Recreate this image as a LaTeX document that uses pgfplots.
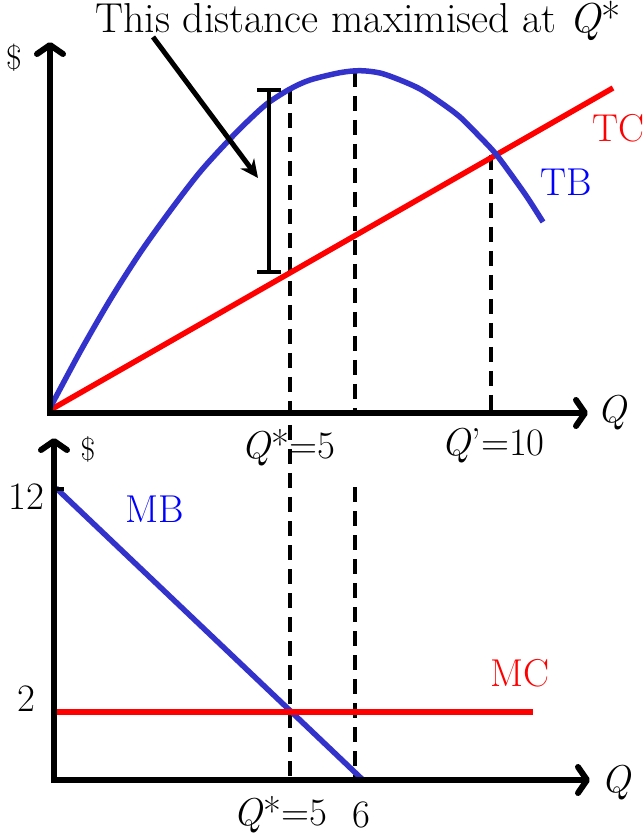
\documentclass[border=0pt]{standalone}
\usepackage{fontspec}
\usepackage{pgfplots}
\pgfplotsset{compat=1.18}
\usetikzlibrary{arrows.meta}
\definecolor{curveblue}{RGB}{51,51,204}
\definecolor{labblue}{RGB}{0,0,255}
\definecolor{labred}{RGB}{255,0,0}
\tikzset{
  lab/.style={font=\fontsize{39}{46}\selectfont, inner sep=0pt, anchor=center},
  axisline/.style={line width=6bp, black, -{Straight Barb[length=9bp,width=26bp,line cap=round,line join=round]}},
  dashl/.style={line width=4.5bp, black, dash pattern=on 15bp off 9bp},
}
\begin{document}
\begin{tikzpicture}[x=1bp,y=1bp]
\path[use as bounding box] (0,0) rectangle (643,837);
\begin{axis}[at={(0,0)}, anchor=south west, scale only axis,
  width=643bp, height=837bp, xmin=0, xmax=643, ymin=0, ymax=837,
  y dir=reverse, hide axis, clip=false,
]
% ---------- dashed guides ----------
\addplot[dashl] coordinates {(290,89) (290,780)};
\addplot[dashl] coordinates {(355,72) (355,413)};
\addplot[dashl] coordinates {(355,487) (355,780)};
\addplot[dashl] coordinates {(491,155) (491,413)};
% ---------- top panel ----------
\addplot[line width=5.5bp, labred] coordinates {(52,409) (613,88)};
\addplot[line width=5.5bp, curveblue, smooth] coordinates {
 (50,408) (80,352) (110,300) (140,253) (170,211) (200,172) (230,139)
 (250,119) (268,103) (290,89) (310,80) (340,72.7) (360,70.7) (380,73)
 (400,80) (420,89) (440,102) (460,117) (480,137) (495,153) (510,173)
 (527,197) (543,222)};
\addplot[axisline] coordinates {(47,413) (588,413)};
\addplot[axisline] coordinates {(50,416) (50,42)};
% bracket
\addplot[line width=4.5bp, black] coordinates {(269,90) (269,272)};
\addplot[line width=4.5bp, black] coordinates {(257,90) (281,90)};
\addplot[line width=4.5bp, black] coordinates {(257,272) (281,272)};
% pointer
\addplot[line width=5bp, black, -{Stealth[length=18bp,width=17bp]}] coordinates {(153,37) (258,178)};
% ---------- bottom panel ----------
\addplot[line width=5.5bp, curveblue] coordinates {(56,488) (363,780)};
\addplot[line width=5.5bp, labred] coordinates {(54,712) (533,712)};
\addplot[axisline] coordinates {(51,780) (590,780)};
\addplot[axisline] coordinates {(54,783) (54,438)};
\addplot[line width=4.5bp, black] coordinates {(54,489) (64,489)};
% ---------- labels ----------
\node[lab, font=\fontsize{42}{49}\selectfont] at (axis cs:358,21) {This distance maximised at \textit{Q}*};
\node[lab, font=\fontsize{34}{40}\selectfont] at (axis cs:14,58) {\$};
\node[lab, text=labred] at (axis cs:618,128) {TC};
\node[lab, text=labblue] at (axis cs:566,182) {TB};
\node[lab] at (axis cs:612,413) {\textit{Q}};
\node[lab] at (axis cs:288,448) {\textit{Q}*=5};
\node[lab] at (axis cs:493,446) {\textit{Q}'=10};
\node[lab, font=\fontsize{32}{38}\selectfont] at (axis cs:88,449) {\$};
\node[lab] at (axis cs:26,497) {12};
\node[lab, text=labblue] at (axis cs:155,509) {MB};
\node[lab, text=labred] at (axis cs:520,673) {MC};
\node[lab] at (axis cs:26,699) {2};
\node[lab] at (axis cs:280,815) {\textit{Q}*=5};
\node[lab] at (axis cs:361,815) {6};
\node[lab] at (axis cs:616,783) {\textit{Q}};
\end{axis}
\end{tikzpicture}
\end{document}
